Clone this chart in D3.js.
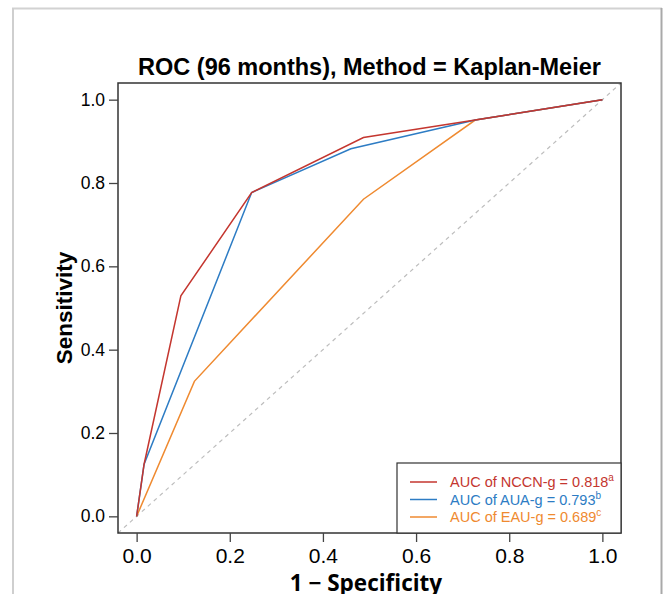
<!DOCTYPE html>
<html>
<head>
<meta charset="utf-8">
<script src="https://cdn.jsdelivr.net/npm/d3@7"></script>
<style>
  body { margin: 0; background: #fff; }
  svg { display: block; }
</style>
</head>
<body>
<div id="chart"></div>
<script>
// ROC curve points (1 - specificity, sensitivity)
var nccnFpr = [0, 0.016, 0.095, 0.247, 0.487, 0.727, 1];
var nccnTpr = [0, 0.125, 0.529, 0.777, 0.909, 0.951, 1];
var auaFpr = [0, 0.016, 0.247, 0.46, 0.727, 1];
var auaTpr = [0, 0.125, 0.777, 0.882, 0.951, 1];
var eauFpr = [0, 0.124, 0.487, 0.727, 1];
var eauTpr = [0, 0.324, 0.761, 0.951, 1];

var seriesNames = ["AUC of NCCN-g = 0.818", "AUC of AUA-g = 0.793", "AUC of EAU-g = 0.689"];
var seriesSup = ["a", "b", "c"];
var seriesColors = ["#c4362f", "#2d7cc4", "#ef8a30"];
var tickValues = [0, 0.2, 0.4, 0.6, 0.8, 1.0];

var W = 665, H = 594;
var box = {left: 118, right: 621, top: 83, bottom: 533};

var svg = d3.select("#chart").append("svg")
    .attr("width", W)
    .attr("height", H);

// outer grey frame
svg.append("line").attr("x1", 12).attr("x2", 662).attr("y1", 8.5).attr("y2", 8.5)
    .attr("stroke", "#d2d2d2").attr("stroke-width", 2);
svg.append("line").attr("x1", 13).attr("x2", 13).attr("y1", 8).attr("y2", H)
    .attr("stroke", "#cfcfcf").attr("stroke-width", 2);
svg.append("line").attr("x1", 661.5).attr("x2", 661.5).attr("y1", 8).attr("y2", H)
    .attr("stroke", "#a9a9a9").attr("stroke-width", 2);

// scales (R style 4% padding)
var x = d3.scaleLinear().domain([-0.04, 1.04]).range([box.left, box.right]);
var y = d3.scaleLinear().domain([-0.04, 1.04]).range([box.bottom, box.top]);

// diagonal reference
svg.append("line")
    .attr("x1", x(-0.04)).attr("y1", y(-0.04))
    .attr("x2", x(1.04)).attr("y2", y(1.04))
    .attr("stroke", "#bdbdbd")
    .attr("stroke-width", 1.2)
    .attr("stroke-dasharray", "4,4");

// curves
var line = d3.line()
    .x(function(d) { return x(d[0]); })
    .y(function(d) { return y(d[1]); });

var curves = [
    d3.zip(eauFpr, eauTpr),
    d3.zip(auaFpr, auaTpr),
    d3.zip(nccnFpr, nccnTpr)
];
var curveColors = [seriesColors[2], seriesColors[1], seriesColors[0]];

curves.forEach(function(c, i) {
    svg.append("path")
        .datum(c)
        .attr("d", line)
        .attr("fill", "none")
        .attr("stroke", curveColors[i])
        .attr("stroke-width", 1.5);
});

// plot box
svg.append("rect")
    .attr("x", box.left).attr("y", box.top)
    .attr("width", box.right - box.left)
    .attr("height", box.bottom - box.top)
    .attr("fill", "none")
    .attr("stroke", "#333")
    .attr("stroke-width", 1.5);

// axes
var fmt = d3.format(".1f");
var xAxis = svg.append("g")
    .attr("transform", "translate(0," + box.bottom + ")")
    .call(d3.axisBottom(x).tickValues(tickValues).tickFormat(fmt).tickSize(9).tickPadding(6));
var yAxis = svg.append("g")
    .attr("transform", "translate(" + box.left + ",0)")
    .call(d3.axisLeft(y).tickValues(tickValues).tickFormat(fmt).tickSize(9).tickPadding(4));

[xAxis, yAxis].forEach(function(a) {
    a.select(".domain").remove();
    a.selectAll(".tick line").attr("stroke", "#444").attr("stroke-width", 1.3);
    a.selectAll(".tick text")
        .attr("fill", "#000")
        .style("font-family", "'Liberation Sans', Arial, sans-serif");
});
xAxis.selectAll(".tick text").style("font-size", "21px");
yAxis.selectAll(".tick text").style("font-size", "17.5px");

// title and axis labels
svg.append("text")
    .attr("x", (box.left + box.right) / 2)
    .attr("y", 75)
    .attr("text-anchor", "middle")
    .style("font-family", "'Liberation Sans', Arial, sans-serif")
    .style("font-weight", "bold")
    .style("font-size", "23.5px")
    .text("ROC (96 months), Method = Kaplan-Meier");

svg.append("text")
    .attr("transform", "translate(72," + ((box.top + box.bottom) / 2) + ") rotate(-90)")
    .attr("text-anchor", "middle")
    .style("font-family", "'Liberation Sans', Arial, sans-serif")
    .style("font-weight", "bold")
    .style("font-size", "22.5px")
    .text("Sensitivity");

svg.append("text")
    .attr("x", 366)
    .attr("y", 591)
    .attr("text-anchor", "middle")
    .style("font-family", "'Open Sans', sans-serif")
    .style("font-weight", "bold")
    .style("font-size", "22.5px")
    .text("1 \u2212 Specificity");

// legend
var legend = svg.append("g");
legend.append("rect")
    .attr("x", 397).attr("y", 463)
    .attr("width", box.right - 397)
    .attr("height", box.bottom - 463)
    .attr("fill", "#fff")
    .attr("stroke", "#333")
    .attr("stroke-width", 1.2);

var rowY = [482, 499.5, 517];
seriesNames.forEach(function(name, i) {
    legend.append("line")
        .attr("x1", 410).attr("x2", 437)
        .attr("y1", rowY[i]).attr("y2", rowY[i])
        .attr("stroke", seriesColors[i])
        .attr("stroke-width", 1.5);
    var t = legend.append("text")
        .attr("x", 450)
        .attr("y", rowY[i] + 5)
        .attr("fill", seriesColors[i])
        .style("font-family", "'Liberation Sans', Arial, sans-serif")
        .style("font-size", "14.5px");
    t.append("tspan").text(name);
    t.append("tspan")
        .attr("dy", -6)
        .style("font-size", "10px")
        .text(seriesSup[i]);
});
</script>
</body>
</html>
